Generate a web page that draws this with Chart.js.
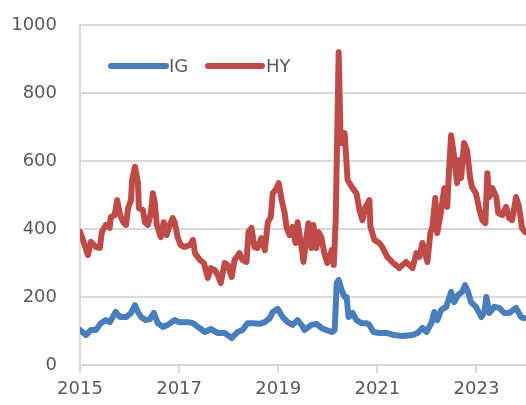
<!DOCTYPE html>
<html>
<head>
<meta charset="utf-8">
<script src="https://cdn.jsdelivr.net/npm/chart.js@4.4.1/dist/chart.umd.min.js"></script>
<style>
	html, body { margin: 0; padding: 0; background: #fff; }
	#wrap { width: 526px; height: 405px; }
</style>
</head>
<body>
<div id="wrap"><canvas id="mycanvas" width="526" height="405"></canvas></div>
<script>
// spreads, bp
var yearTicks = [2015, 2017, 2019, 2021, 2023];
var valueTicks = [0, 200, 400, 600, 800, 1000];

var igDates = [2015.00, 2015.12, 2015.22, 2015.32, 2015.42, 2015.52, 2015.60, 2015.72, 2015.81, 2015.93,
	2016.03, 2016.11, 2016.17, 2016.23, 2016.33, 2016.41, 2016.49, 2016.57, 2016.67, 2016.77, 2016.91,
	2017.01, 2017.18, 2017.28, 2017.38, 2017.52, 2017.64, 2017.78, 2017.92,
	2018.06, 2018.18, 2018.28, 2018.38, 2018.48, 2018.63, 2018.73, 2018.83, 2018.89, 2018.99,
	2019.09, 2019.19, 2019.29, 2019.39, 2019.47, 2019.53, 2019.67, 2019.77, 2019.87, 2019.97,
	2020.08, 2020.14, 2020.18, 2020.22, 2020.28, 2020.34, 2020.38, 2020.42, 2020.50, 2020.58, 2020.68, 2020.78, 2020.84, 2020.92,
	2021.04, 2021.20, 2021.34, 2021.50, 2021.71, 2021.81, 2021.91, 2021.99,
	2022.09, 2022.15, 2022.21, 2022.29, 2022.39, 2022.49, 2022.55, 2022.63, 2022.71, 2022.77, 2022.83, 2022.89, 2022.99,
	2023.10, 2023.16, 2023.20, 2023.26, 2023.36, 2023.46, 2023.56, 2023.66, 2023.80, 2023.90, 2023.96];
var igValues = [103, 88, 103, 103, 123, 132, 126, 156, 141, 141,
	153, 176, 156, 141, 132, 135, 153, 123, 112, 118, 132,
	126, 126, 123, 112, 97, 106, 94, 94,
	79, 97, 103, 123, 123, 121, 126, 138, 156, 165,
	141, 126, 118, 132, 118, 103, 118, 121, 109, 103,
	97, 103, 241, 250, 220, 200, 200, 141, 153, 132, 123, 123, 118, 97,
	94, 94, 88, 85, 88, 94, 109, 97,
	123, 156, 132, 162, 171, 215, 185, 206, 215, 235, 215, 185, 171,
	141, 156, 200, 153, 171, 168, 153, 153, 168, 141, 138];

var hyDates = [2015.00, 2015.06, 2015.16, 2015.22, 2015.32, 2015.40, 2015.44, 2015.52, 2015.60, 2015.62, 2015.70, 2015.75, 2015.81, 2015.87, 2015.93, 2015.97,
	2016.03, 2016.05, 2016.11, 2016.17, 2016.19, 2016.27, 2016.31, 2016.37, 2016.43, 2016.47, 2016.51, 2016.55, 2016.63, 2016.69, 2016.75, 2016.81, 2016.87, 2016.91, 2016.97,
	2017.03, 2017.11, 2017.22, 2017.28, 2017.32, 2017.42, 2017.50, 2017.58, 2017.64, 2017.72, 2017.78, 2017.84, 2017.92, 2017.98,
	2018.06, 2018.12, 2018.22, 2018.28, 2018.36, 2018.40, 2018.46, 2018.52, 2018.58, 2018.66, 2018.73, 2018.79, 2018.85, 2018.89, 2018.97,
	2019.01, 2019.07, 2019.13, 2019.17, 2019.23, 2019.29, 2019.35, 2019.39, 2019.47, 2019.51, 2019.57, 2019.61, 2019.67, 2019.71, 2019.77, 2019.81, 2019.87, 2019.93, 2019.99,
	2020.08, 2020.12, 2020.16, 2020.22, 2020.26, 2020.34, 2020.40, 2020.50, 2020.58, 2020.64, 2020.70, 2020.76, 2020.84, 2020.86, 2020.94,
	2021.04, 2021.10, 2021.20, 2021.30, 2021.44, 2021.58, 2021.71, 2021.79, 2021.85, 2021.91,
	2022.01, 2022.07, 2022.11, 2022.17, 2022.21, 2022.29, 2022.35, 2022.41, 2022.45, 2022.49, 2022.55, 2022.61, 2022.65, 2022.69, 2022.75, 2022.81, 2022.87, 2022.91, 2022.99,
	2023.06, 2023.12, 2023.18, 2023.22, 2023.26, 2023.32, 2023.40, 2023.44, 2023.52, 2023.60, 2023.66, 2023.72, 2023.80, 2023.86, 2023.92, 2023.98];
var hyValues = [392, 368, 323, 362, 347, 344, 391, 412, 403, 435, 441, 485, 441, 420, 412, 461,
	485, 544, 583, 535, 461, 456, 420, 412, 447, 505, 476, 412, 376, 420, 382, 412, 432, 420, 376,
	353, 347, 353, 368, 329, 309, 300, 256, 285, 279, 265, 241, 300, 294,
	259, 309, 329, 309, 303, 391, 403, 347, 344, 373, 338, 420, 435, 505, 520,
	535, 485, 447, 403, 382, 406, 359, 420, 347, 303, 376, 417, 344, 412, 344, 391, 376, 329, 300,
	338, 294, 426, 920, 652, 682, 544, 520, 505, 456, 426, 465, 485, 406, 368,
	359, 347, 318, 303, 285, 303, 285, 329, 318, 359,
	303, 388, 406, 491, 388, 456, 520, 465, 583, 676, 612, 535, 603, 550, 653, 632, 553, 523, 505,
	456, 426, 417, 564, 494, 520, 494, 447, 441, 465, 432, 426, 494, 465, 403, 391];

function toPoints(dates, values) {
	var pts = [];
	for (var i in dates) {
		pts.push({ x: dates[i], y: values[i] });
	}
	return pts;
}

var gridColor = '#d9d9d9';
var textColor = '#595959';
var fontFamily = "'DejaVu Sans', sans-serif";

// legend drawn inside the plot, line samples with round caps
var insideLegend = {
	id: 'insideLegend',
	afterDraw: function(chart) {
		var ctx = chart.ctx;
		var items = [
			{ ds: chart.data.datasets[0], x1: 111, x2: 166, tx: 169 },
			{ ds: chart.data.datasets[1], x1: 208, x2: 262, tx: 266 }
		];
		var y = 66;
		ctx.save();
		ctx.lineCap = 'round';
		ctx.font = '18px ' + fontFamily;
		ctx.textBaseline = 'middle';
		ctx.textAlign = 'left';
		items.forEach(function(it) {
			ctx.strokeStyle = it.ds.borderColor;
			ctx.lineWidth = 6;
			ctx.beginPath();
			ctx.moveTo(it.x1, y);
			ctx.lineTo(it.x2, y);
			ctx.stroke();
			ctx.fillStyle = textColor;
			ctx.fillText(it.ds.label, it.tx, y + 1);
		});
		ctx.restore();
	}
};

var chartdata = {
	datasets: [
		{
			label: 'IG',
			borderColor: '#4a7ebb',
			backgroundColor: '#4a7ebb',
			borderWidth: 6,
			data: toPoints(igDates, igValues)
		},
		{
			label: 'HY',
			borderColor: '#be4b48',
			backgroundColor: '#be4b48',
			borderWidth: 6,
			data: toPoints(hyDates, hyValues)
		}
	]
};

var ctx = document.getElementById('mycanvas');

var lineGraph = new Chart(ctx, {
	type: 'line',
	data: chartdata,
	plugins: [insideLegend],
	options: {
		responsive: false,
		animation: false,
		layout: { padding: { top: 25, right: 0, left: 0, bottom: 0 } },
		elements: {
			point: { radius: 0 },
			line: { tension: 0, borderJoinStyle: 'round', borderCapStyle: 'round' }
		},
		plugins: {
			legend: { display: false },
			tooltip: { enabled: false }
		},
		scales: {
			x: {
				type: 'linear',
				min: 2015,
				max: 2024,
				afterBuildTicks: function(scale) {
					scale.ticks = yearTicks.map(function(v) { return { value: v }; });
				},
				afterFit: function(scale) {
					scale.height = 40;
					scale.paddingLeft = 0;
					scale.paddingRight = 0;
				},
				ticks: {
					color: textColor,
					font: { family: fontFamily, size: 18 },
					padding: 6,
					maxRotation: 0,
					callback: function(v) { return String(v); }
				},
				grid: {
					drawOnChartArea: false,
					drawTicks: true,
					tickLength: 8,
					color: gridColor,
					lineWidth: 2
				},
				border: { display: true, color: gridColor, width: 2 }
			},
			y: {
				min: 0,
				max: 1000,
				afterBuildTicks: function(scale) {
					scale.ticks = valueTicks.map(function(v) { return { value: v }; });
				},
				afterFit: function(scale) {
					scale.width = 80;
					scale.paddingTop = 0;
					scale.paddingBottom = 0;
				},
				ticks: {
					color: textColor,
					font: { family: fontFamily, size: 18 },
					padding: 23,
					callback: function(v) { return String(v); }
				},
				grid: {
					drawTicks: false,
					color: gridColor,
					lineWidth: 2
				},
				border: { display: true, color: gridColor, width: 2 }
			}
		}
	}
});
</script>
</body>
</html>
